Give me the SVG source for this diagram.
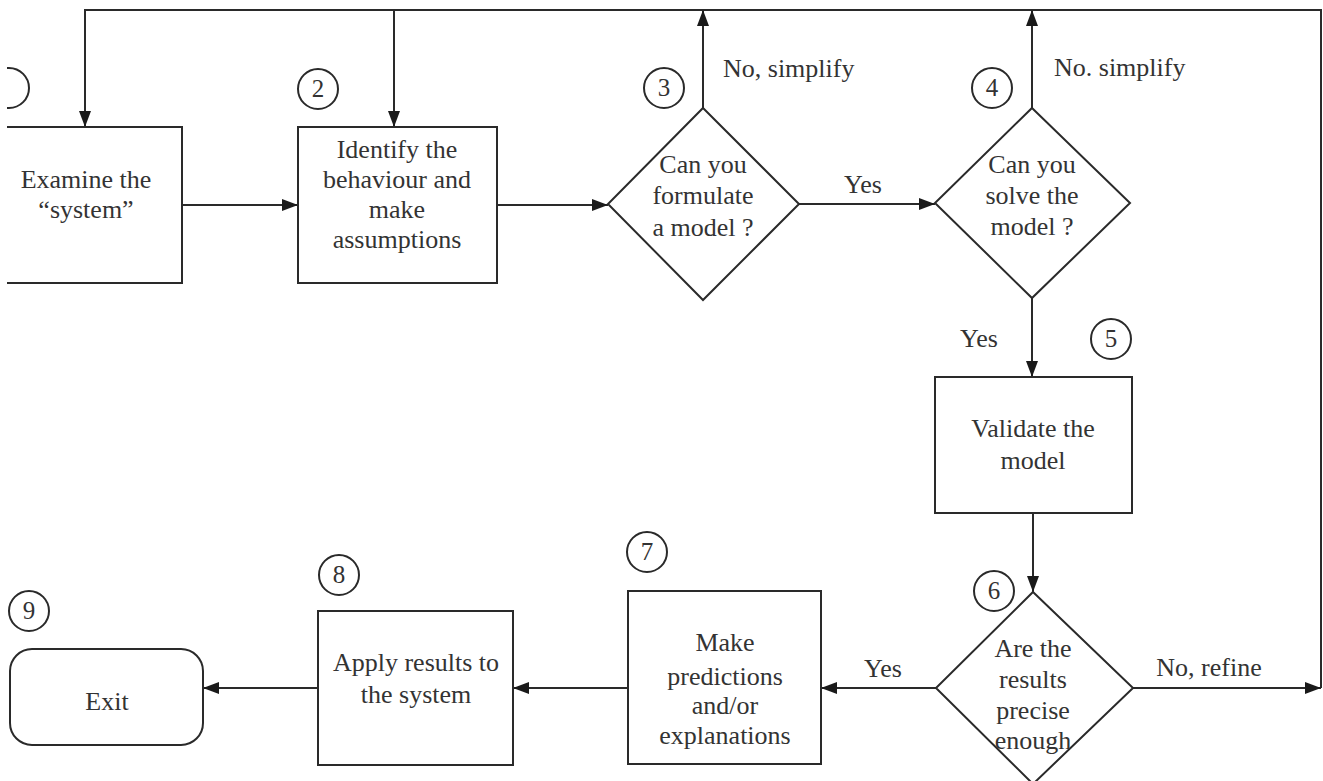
<svg xmlns="http://www.w3.org/2000/svg" width="1323" height="781" viewBox="0 0 1323 781">
<style>
.shape{fill:#fff;stroke:#2a2a2a;stroke-width:2}
.edge{fill:none;stroke:#2a2a2a;stroke-width:2}
.num{fill:none;stroke:#2a2a2a;stroke-width:2}
text{font-family:"Liberation Serif","Times New Roman",serif;font-size:26px;fill:#333;text-anchor:middle}
.lbl{text-anchor:start}
.d{font-size:25px}
</style>
<defs>
<marker id="arr" markerUnits="userSpaceOnUse" markerWidth="16" markerHeight="12" refX="16" refY="6" orient="auto">
<path d="M0,0 L16,6 L0,12 z" fill="#1a1a1a"/>
</marker>
<clipPath id="clipL"><rect x="7" y="0" width="1316" height="781"/></clipPath>
</defs>
<rect width="1323" height="781" fill="#fff"/>

<g id="connectors">
<path class="edge" d="M1321,688 V10 H85 V127" marker-end="url(#arr)"/>
<path class="edge" d="M394,10 V127" marker-end="url(#arr)"/>
<path class="edge" d="M703,108 V10" marker-end="url(#arr)"/>
<path class="edge" d="M1032,108 V10" marker-end="url(#arr)"/>
<path class="edge" d="M182,205 H298" marker-end="url(#arr)"/>
<path class="edge" d="M497,205 H608" marker-end="url(#arr)"/>
<path class="edge" d="M799,204 H935" marker-end="url(#arr)"/>
<path class="edge" d="M1032,298 V377" marker-end="url(#arr)"/>
<path class="edge" d="M1033,513 V592" marker-end="url(#arr)"/>
<path class="edge" d="M1133,688 H1321" marker-end="url(#arr)"/>
<path class="edge" d="M936,688 H821" marker-end="url(#arr)"/>
<path class="edge" d="M628,688 H513" marker-end="url(#arr)"/>
<path class="edge" d="M318,688 H203" marker-end="url(#arr)"/>
<text class="lbl" x="723" y="77">No, simplify</text>
<text class="lbl" x="1054" y="76">No. simplify</text>
<text x="863" y="193">Yes</text>
<text x="979" y="347">Yes</text>
<text x="883" y="677">Yes</text>
<text x="1209" y="676">No, refine</text>
</g>

<g id="node1">
<circle class="num" cx="9" cy="88" r="20" clip-path="url(#clipL)"/>
<path class="shape" d="M7,127 H182 V283 H7"/>
<text x="86" y="188">Examine the</text>
<text x="86" y="218">“system”</text>
</g>

<g id="node2">
<circle class="num" cx="318" cy="89" r="20"/>
<text class="d" x="318" y="97">2</text>
<rect class="shape" x="298" y="127" width="199" height="156"/>
<text x="397" y="158">Identify the</text>
<text x="397" y="188">behaviour and</text>
<text x="397" y="218">make</text>
<text x="397" y="248">assumptions</text>
</g>

<g id="node3">
<circle class="num" cx="664" cy="88" r="20"/>
<text class="d" x="664" y="96">3</text>
<polygon class="shape" points="703,108 799,204 703,300 608,204"/>
<text x="703" y="173">Can you</text>
<text x="703" y="204">formulate</text>
<text x="703" y="236">a model ?</text>
</g>

<g id="node4">
<circle class="num" cx="992" cy="88" r="20"/>
<text class="d" x="992" y="96">4</text>
<polygon class="shape" points="1032,108 1130,203 1032,298 935,203"/>
<text x="1032" y="173">Can you</text>
<text x="1032" y="204">solve the</text>
<text x="1032" y="235">model ?</text>
</g>

<g id="node5">
<circle class="num" cx="1111" cy="339" r="20"/>
<text class="d" x="1111" y="347">5</text>
<rect class="shape" x="935" y="377" width="197" height="136"/>
<text x="1033" y="437">Validate the</text>
<text x="1033" y="469">model</text>
</g>

<g id="node6">
<circle class="num" cx="994" cy="591" r="20"/>
<text class="d" x="994" y="599">6</text>
<polygon class="shape" points="1033,592 1133,688 1033,784 936,688"/>
<text x="1033" y="657">Are the</text>
<text x="1033" y="688">results</text>
<text x="1033" y="719">precise</text>
<text x="1033" y="749">enough</text>
</g>

<g id="node7">
<circle class="num" cx="647" cy="552" r="20"/>
<text class="d" x="647" y="560">7</text>
<rect class="shape" x="628" y="591" width="193" height="173"/>
<text x="725" y="651">Make</text>
<text x="725" y="685">predictions</text>
<text x="725" y="714">and/or</text>
<text x="725" y="744">explanations</text>
</g>

<g id="node8">
<circle class="num" cx="339" cy="575" r="20"/>
<text class="d" x="339" y="583">8</text>
<rect class="shape" x="318" y="611" width="195" height="154"/>
<text x="416" y="671">Apply results to</text>
<text x="416" y="703">the system</text>
</g>

<g id="node9">
<circle class="num" cx="29" cy="611" r="20"/>
<text class="d" x="29" y="619">9</text>
<rect class="shape" x="10" y="649" width="193" height="96" rx="22"/>
<text x="107" y="710">Exit</text>
</g>
</svg>
